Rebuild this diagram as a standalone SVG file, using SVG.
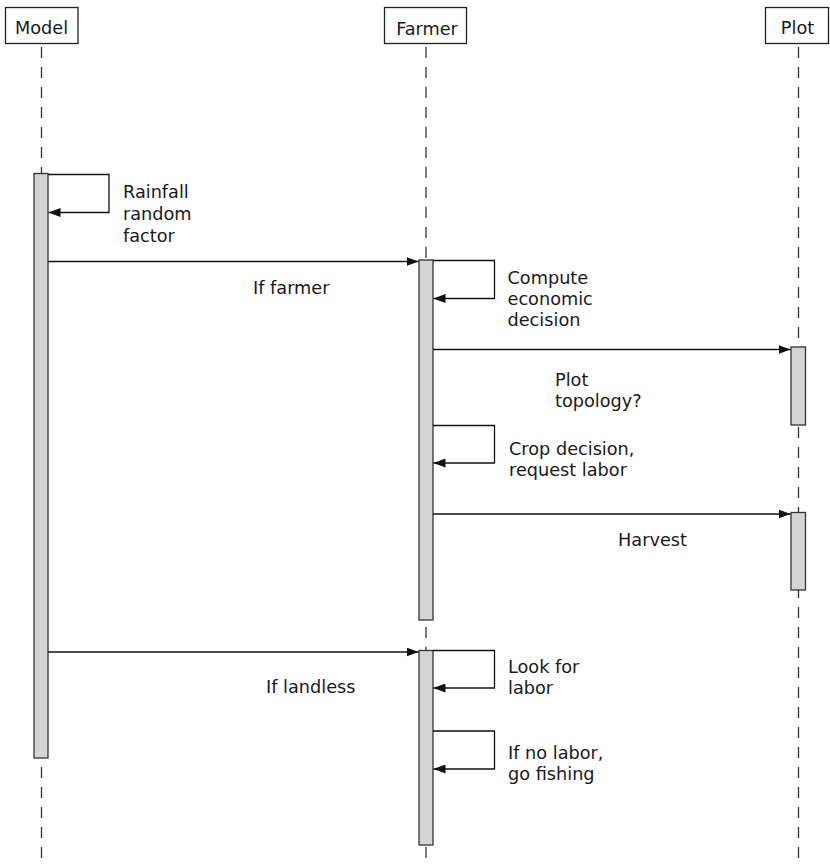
<svg xmlns="http://www.w3.org/2000/svg" width="830" height="865" viewBox="0 0 830 865">
<defs>
<marker id="ah" viewBox="0 0 12 9" refX="12" refY="4.5" markerWidth="12" markerHeight="9" markerUnits="userSpaceOnUse" orient="auto">
<path d="M0,0 L12,4.5 L0,9 Z" fill="#111"/>
</marker>
<style>
.box{fill:#fff;stroke:#222;stroke-width:1.3}
.life{stroke:#333;stroke-width:1.3;stroke-dasharray:11 9;fill:none}
.bar{fill:#d4d4d4;stroke:#333;stroke-width:1.3}
.msg{stroke:#111;stroke-width:1.3;fill:none}
text{font-family:"DejaVu Sans",sans-serif;font-size:17.7px;fill:#1a1a1a}
.c{text-anchor:middle}
</style>
</defs>
<rect width="830" height="865" fill="#fff"/>
<g id="lifelines">
<line class="life" x1="41.5" y1="47" x2="41.5" y2="865"/>
<line class="life" x1="426" y1="47" x2="426" y2="865"/>
<line class="life" x1="798.5" y1="47" x2="798.5" y2="865"/>
</g>
<g id="node-model">
<rect class="box" x="5.5" y="7.5" width="72.5" height="36"/>
<text class="c" x="41.5" y="34">Model</text>
<rect class="bar" x="34" y="173.5" width="14" height="584.5"/>
</g>
<g id="node-farmer">
<rect class="box" x="384.5" y="7.5" width="82" height="36"/>
<text class="c" x="427" y="34.5">Farmer</text>
<rect class="bar" x="419" y="260" width="14" height="360"/>
<rect class="bar" x="419" y="650.5" width="14" height="194.5"/>
</g>
<g id="node-plot">
<rect class="box" x="765.5" y="7.5" width="63" height="36"/>
<text class="c" x="797.5" y="34">Plot</text>
<rect class="bar" x="791" y="347" width="14.5" height="78"/>
<rect class="bar" x="791" y="512.5" width="14.5" height="77.5"/>
</g>
<g id="connectors">
<path class="msg" d="M48,174.5 H109 V212.5 H48.5" marker-end="url(#ah)"/>
<line class="msg" x1="48" y1="261.5" x2="418.5" y2="261.5" marker-end="url(#ah)"/>
<path class="msg" d="M433,260.5 H494.5 V298.5 H433.5" marker-end="url(#ah)"/>
<line class="msg" x1="433" y1="349.5" x2="790.5" y2="349.5" marker-end="url(#ah)"/>
<path class="msg" d="M433,425.5 H494.5 V463 H433.5" marker-end="url(#ah)"/>
<line class="msg" x1="433" y1="514" x2="790.5" y2="514" marker-end="url(#ah)"/>
<line class="msg" x1="48" y1="652" x2="418.5" y2="652" marker-end="url(#ah)"/>
<path class="msg" d="M433,650.5 H494.5 V688 H433.5" marker-end="url(#ah)"/>
<path class="msg" d="M433,731 H494.5 V769 H433.5" marker-end="url(#ah)"/>
</g>
<g id="labels">
<text x="123" y="198">Rainfall</text>
<text x="123" y="220">random</text>
<text x="123" y="242">factor</text>
<text x="253" y="294">If farmer</text>
<text x="507.5" y="283.5">Compute</text>
<text x="507.5" y="304.5">economic</text>
<text x="507.5" y="325.5">decision</text>
<text x="555" y="386">Plot</text>
<text x="555" y="407">topology?</text>
<text x="509" y="455">Crop decision,</text>
<text x="509" y="476">request labor</text>
<text x="618" y="546">Harvest</text>
<text x="266" y="693">If landless</text>
<text x="508" y="673">Look for</text>
<text x="508" y="693.5">labor</text>
<text x="508" y="758.5">If no labor,</text>
<text x="508" y="780">go fishing</text>
</g>
</svg>
